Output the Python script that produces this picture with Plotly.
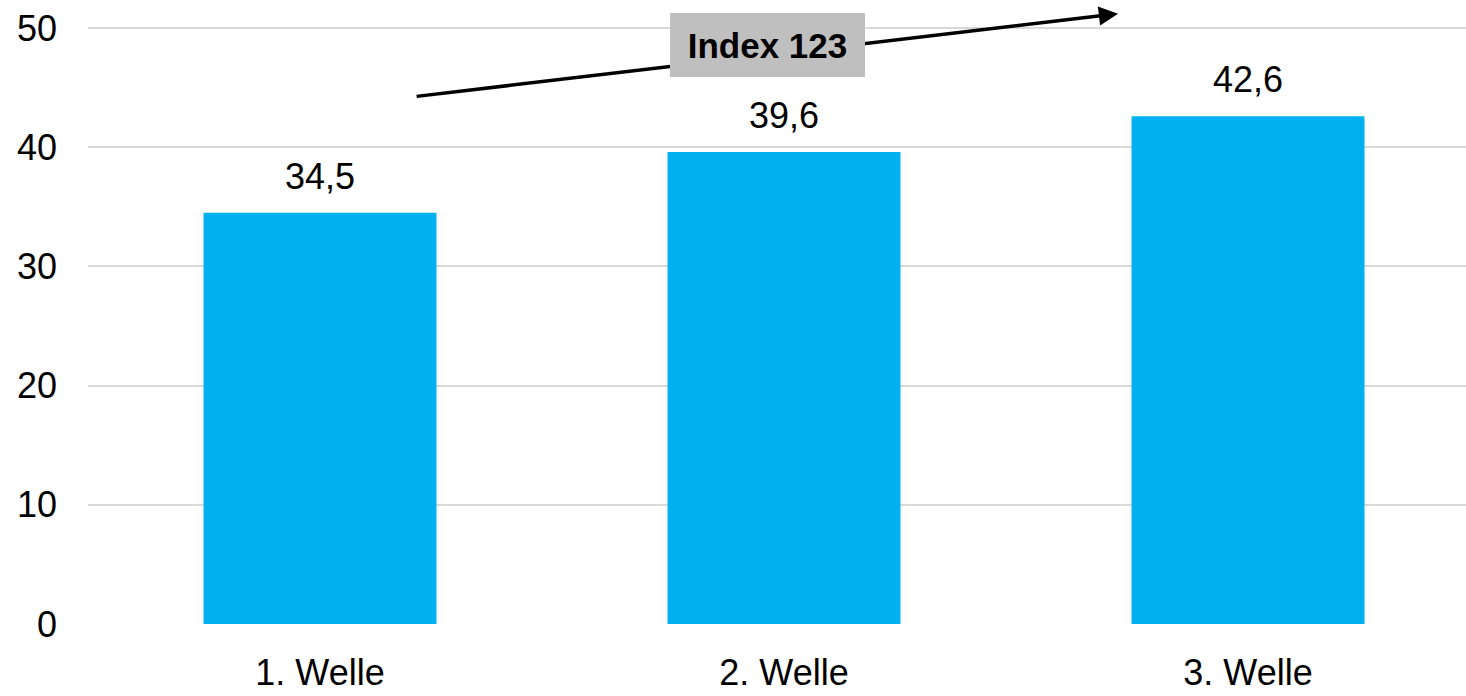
import plotly.graph_objects as go

categories = ["1. Welle", "2. Welle", "3. Welle"]
values = [34.5, 39.6, 42.6]
value_labels = ["34,5", "39,6", "42,6"]
y_ticks = [0, 10, 20, 30, 40, 50]
index_label = "Index 123"

FONT = "Liberation Sans, Arial, sans-serif"
fig = go.Figure()
fig.add_trace(go.Bar(x=list(range(len(categories))), y=values,
                     marker=dict(color="#00B0F0", line=dict(width=0)),
                     width=0.502, hoverinfo="skip"))

for i, (v, t) in enumerate(zip(values, value_labels)):
    fig.add_annotation(x=i, y=v, text=t, showarrow=False, xref="x", yref="y",
                       yanchor="bottom", yshift=14,
                       font=dict(family=FONT, size=36, color="black"))

# trend arrow
fig.add_annotation(x=1.72, y=51.2, ax=0.205, ay=44.25, xref="x", yref="y",
                   axref="x", ayref="y", text="", showarrow=True,
                   arrowhead=2, arrowsize=1.1, arrowwidth=3.5, arrowcolor="black")
# index label box
fig.add_annotation(x=0.964, y=48.6, xref="x", yref="y", text="<b>" + index_label + "</b>",
                   showarrow=False, bgcolor="#bfbfbf", borderwidth=0, borderpad=0,
                   width=195, height=64, align="center", valign="middle",
                   font=dict(family=FONT, size=35, color="black"))

fig.update_layout(
    width=1466, height=696,
    margin=dict(l=88, r=0, t=0, b=72),
    plot_bgcolor="white", paper_bgcolor="white",
    showlegend=False,
    font=dict(family=FONT, size=36, color="black"),
    bargap=0.5,
    xaxis=dict(range=[-0.5, 2.4698], tickmode="array",
               tickvals=list(range(len(categories))), ticktext=categories,
               showgrid=False, zeroline=False, showline=False,
               ticks="", ticklabelstandoff=24, automargin=False,
               tickfont=dict(family=FONT, size=36, color="black")),
    yaxis=dict(range=[0, 52.35], tickmode="array", tickvals=y_ticks,
               ticktext=[str(t) for t in y_ticks],
               showgrid=True, gridcolor="#d9d9d9", gridwidth=2,
               zeroline=False, showline=False, ticks="",
               ticklabelstandoff=30, automargin=False,
               tickfont=dict(family=FONT, size=36, color="black")),
)
fig.write_html("out.html", config={"displayModeBar": False},
               post_script="document.body.style.margin='0';document.body.style.overflow='hidden';")
